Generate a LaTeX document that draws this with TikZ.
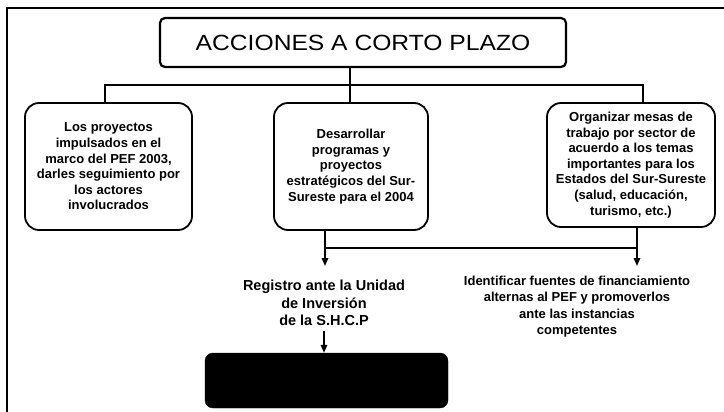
\documentclass[tikz,border=0pt]{standalone}
\usepackage{fontspec}
\setmainfont{Liberation Sans}
\newfontfamily\titlefont[FakeStretch=1.12]{Liberation Sans}
\usetikzlibrary{arrows.meta}
\begin{document}
\begin{tikzpicture}[x=1pt,y=-1pt,
  box/.style={draw, line width=1.8pt, rounded corners=14pt, align=center, inner sep=0pt,
    font=\bfseries\fontsize{13}{15.6}\selectfont},
  titlebox/.style={draw, line width=2.2pt, rounded corners=5pt, align=center, inner sep=0pt,
    font=\titlefont\fontsize{22}{26}\selectfont},
  conn/.style={line width=1.7pt},
  arr/.style={line width=1.5pt, -{Triangle[length=8pt,width=6.5pt]}},
  plain/.style={align=center, inner sep=0pt}]
\useasboundingbox (0,0) rectangle (724,412);
% frame
\draw[line width=1.5pt] (7,412) -- (7,8) -- (724,8);
% nodes
\node[titlebox, minimum width=406pt, minimum height=49pt] (title) at (363,42.5) {ACCIONES A CORTO PLAZO};
\node[box, minimum width=167pt, minimum height=127pt] (lb) at (108.5,166.5)
  {Los proyectos\\impulsados en el\\marco del PEF 2003,\\darles seguimiento por\\los actores\\involucrados};
\node[box, minimum width=154pt, minimum height=127pt] (mb) at (351,166.5)
  {Desarrollar\\programas y\\proyectos\\estratégicos del Sur-\\Sureste para el 2004};
\node[box, minimum width=168pt, minimum height=124pt] (rb) at (631,165)
  {Organizar mesas de\\trabajo por sector de\\acuerdo a los temas\\importantes para los\\Estados del Sur-Sureste\\(salud, educación,\\turismo, etc.)};
\node[plain, font=\bfseries\fontsize{14.5}{17.5}\selectfont] (reg) at (324,303)
  {Registro ante la Unidad\\de Inversión\\de la S.H.C.P};
\node[plain, font=\bfseries\fontsize{13}{16.3}\selectfont] (idf) at (577,306.5)
  {Identificar fuentes de financiamiento\\alternas al PEF y promoverlos\\ante las instancias\\competentes};
\node[draw, fill=black, rounded corners=8pt, minimum width=243pt, minimum height=55pt, inner sep=0pt] (blk) at (326.5,380.5) {};
% connectors
\coordinate (jt) at (350,85);
\coordinate (jl) at (105,85);
\coordinate (jr) at (643,85);
\draw[conn] (jt |- title.south) -- (jt |- mb.north);
\draw[conn] (jl |- lb.north) -- (jl) -- (jr) -- (jr |- rb.north);
\coordinate (jm) at (325,248);
\coordinate (jn) at (637,248);
\coordinate (ra) at (325,266);
\coordinate (ia) at (637,266);
\draw[conn] (jm) -- (jn);
\draw[arr] (jm |- mb.south) -- (ra);
\draw[arr] (jn |- rb.south) -- (ia);
\draw[arr, shorten <=5pt] (reg.south) -- (reg.south |- blk.north);
\end{tikzpicture}
\end{document}
